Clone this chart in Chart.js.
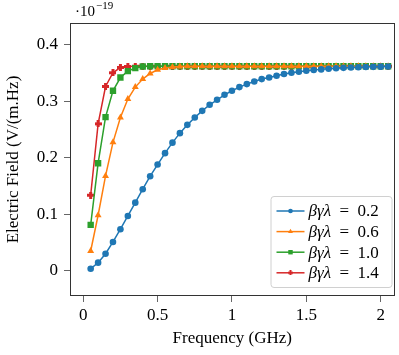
<!DOCTYPE html>
<html>
<head>
<meta charset="utf-8">
<script src="https://cdn.jsdelivr.net/npm/chart.js@4.4.0/dist/chart.umd.min.js"></script>
<style>
html, body { margin: 0; padding: 0; background: #fff; }
#wrap { position: relative; width: 399px; height: 355px; }
</style>
</head>
<body>
<div id="wrap"><canvas id="efChart" width="399" height="355"></canvas></div>
<script>
// frequency in GHz
var freq = [0.05, 0.10, 0.15, 0.20, 0.25, 0.30, 0.35, 0.40, 0.45, 0.50,
            0.55, 0.60, 0.65, 0.70, 0.75, 0.80, 0.85, 0.90, 0.95, 1.00,
            1.05, 1.10, 1.15, 1.20, 1.25, 1.30, 1.35, 1.40, 1.45, 1.50,
            1.55, 1.60, 1.65, 1.70, 1.75, 1.80, 1.85, 1.90, 1.95, 2.00, 2.05];

// electric field, in units of 1e-19 V/(m.Hz)
var field02 = [0.0035, 0.0142, 0.0301, 0.0509, 0.0734, 0.0969, 0.1205, 0.1443, 0.1673, 0.1879,
               0.2081, 0.2267, 0.2435, 0.2582, 0.2712, 0.2830, 0.2937, 0.3025, 0.3114, 0.3185,
               0.3250, 0.3303, 0.3350, 0.3392, 0.3420, 0.3451, 0.3481, 0.3504, 0.3521, 0.3539,
               0.3552, 0.3564, 0.3575, 0.3584, 0.3591, 0.3597, 0.3602, 0.3606, 0.3609, 0.3612, 0.3614];
var field06 = [0.0349, 0.0982, 0.1678, 0.2272, 0.2712, 0.3038, 0.3250, 0.3392, 0.3491, 0.3557,
               0.3587, 0.3605, 0.3614, 0.3618, 0.3620, 0.3620, 0.3620, 0.3620, 0.3620, 0.3620,
               0.3620, 0.3620, 0.3620, 0.3620, 0.3620, 0.3620, 0.3620, 0.3620, 0.3620, 0.3620,
               0.3620, 0.3620, 0.3620, 0.3620, 0.3620, 0.3620, 0.3620, 0.3620, 0.3620, 0.3620, 0.3620];
var field10 = [0.0810, 0.1903, 0.2719, 0.3185, 0.3420, 0.3534, 0.3587, 0.3615, 0.3619, 0.3620,
               0.3620, 0.3620, 0.3620, 0.3620, 0.3620, 0.3620, 0.3620, 0.3620, 0.3620, 0.3620,
               0.3620, 0.3620, 0.3620, 0.3620, 0.3620, 0.3620, 0.3620, 0.3620, 0.3620, 0.3620,
               0.3620, 0.3620, 0.3620, 0.3620, 0.3620, 0.3620, 0.3620, 0.3620, 0.3620, 0.3620, 0.3620];
var field14 = [0.1336, 0.2600, 0.3261, 0.3504, 0.3598, 0.3616, 0.3620, 0.3620, 0.3620, 0.3620,
               0.3620, 0.3620, 0.3620, 0.3620, 0.3620, 0.3620, 0.3620, 0.3620, 0.3620, 0.3620,
               0.3620, 0.3620, 0.3620, 0.3620, 0.3620, 0.3620, 0.3620, 0.3620, 0.3620, 0.3620,
               0.3620, 0.3620, 0.3620, 0.3620, 0.3620, 0.3620, 0.3620, 0.3620, 0.3620, 0.3620, 0.3620];

var seriesValues = ['0.2', '0.6', '1.0', '1.4'];
var xTicks = [0, 0.5, 1, 1.5, 2];
var yTicks = [0, 0.1, 0.2, 0.3, 0.4];

var serif = "'Liberation Serif', 'DejaVu Serif', serif";
var fontSize = 17;

// filled plus marker (matplotlib 'P')
function makePlus(color, size) {
    var c = document.createElement('canvas');
    c.width = size; c.height = size;
    var g = c.getContext('2d');
    var t = Math.round(size * 0.38);
    var o = (size - t) / 2;
    g.fillStyle = color;
    g.fillRect(o, 0, t, size);
    g.fillRect(0, o, size, t);
    return c;
}

function toPoints(ys) {
    var pts = [];
    for (var i = 0; i < freq.length; i++) {
        pts.push({ x: freq[i], y: ys[i] });
    }
    return pts;
}

var colors = ['#1f77b4', '#ff7f0e', '#2ca02c', '#d62728'];
var plusBig = makePlus(colors[3], 7);
var plusSmall = makePlus(colors[3], 5);

var datasets = [
    { data: toPoints(field02), borderColor: colors[0], backgroundColor: colors[0], pointStyle: 'circle', pointRadius: 3.3 },
    { data: toPoints(field06), borderColor: colors[1], backgroundColor: colors[1], pointStyle: 'triangle', pointRadius: 4 },
    { data: toPoints(field10), borderColor: colors[2], backgroundColor: colors[2], pointStyle: 'rect', pointRadius: 4.5 },
    { data: toPoints(field14), borderColor: colors[3], backgroundColor: colors[3], pointStyle: plusBig, pointRadius: 3.5 }
];
datasets.forEach(function (d, i) {
    d.label = seriesValues[i];
    d.borderWidth = 1.5;
    d.pointBorderWidth = 0;
    d.tension = 0;
});

var framePlugin = {
    id: 'frame',
    afterDatasetsDraw: function (chart) {
        var a = chart.chartArea, ctx = chart.ctx;
        ctx.save();
        ctx.strokeStyle = '#333';
        ctx.lineWidth = 1;
        ctx.strokeRect(Math.round(a.left) + 0.5, Math.round(a.top) + 0.5,
                       Math.round(a.right - a.left) - 1, Math.round(a.bottom - a.top) - 1);

        // offset text above the y axis
        ctx.fillStyle = '#000';
        ctx.textBaseline = 'alphabetic';
        ctx.font = '15px ' + serif;
        ctx.fillText('\u00b710', 75, 16);
        var w = ctx.measureText('\u00b710').width;
        ctx.font = '11px ' + serif;
        ctx.fillText('\u221219', 75 + w + 1, 9);
        ctx.restore();
    },
    afterDraw: function (chart) {
        var a = chart.chartArea, ctx = chart.ctx;
        var bw = 121, bh = 91;
        var bx = a.right - 3 - bw, by = a.bottom - 9 - bh;
        ctx.save();
        ctx.fillStyle = 'rgba(255,255,255,0.85)';
        ctx.strokeStyle = '#d0d0d0';
        ctx.lineWidth = 1;
        ctx.beginPath();
        ctx.roundRect(bx + 0.5, by + 0.5, bw, bh, 3);
        ctx.fill();
        ctx.stroke();
        chart.data.datasets.forEach(function (d, i) {
            var y = by + 15 + i * 20.6;
            ctx.strokeStyle = d.borderColor;
            ctx.fillStyle = d.backgroundColor;
            ctx.lineWidth = 1.5;
            ctx.beginPath();
            ctx.moveTo(bx + 6, y);
            ctx.lineTo(bx + 34, y);
            ctx.stroke();
            var style = d.pointStyle === plusBig ? plusSmall : d.pointStyle;
            Chart.helpers.drawPoint(ctx, { pointStyle: style, radius: d.pointRadius * 0.7, rotation: 0, borderWidth: 0 }, bx + 20, y);
            ctx.fillStyle = '#000';
            ctx.textBaseline = 'middle';
            ctx.font = 'italic ' + fontSize + 'px ' + serif;
            ctx.fillText('\u03b2\u03b3\u03bb', bx + 38, y + 1);
            var w = ctx.measureText('\u03b2\u03b3\u03bb').width;
            ctx.font = fontSize + 'px ' + serif;
            ctx.fillText('\u2002=\u2002' + d.label, bx + 38 + w, y + 1);
        });
        ctx.restore();
    }
};

var ctx = document.getElementById('efChart').getContext('2d');
var efChart = new Chart(ctx, {
    type: 'line',
    data: { datasets: datasets },
    options: {
        responsive: false,
        devicePixelRatio: 1,
        animation: false,
        layout: { padding: { top: 23, right: 2, left: 0, bottom: 0 } },
        plugins: {
            legend: { display: false },
            tooltip: { enabled: false }
        },
        scales: {
            x: {
                type: 'linear',
                min: -0.089,
                max: 2.093,
                afterBuildTicks: function (axis) {
                    axis.ticks = xTicks.map(function (v) { return { value: v }; });
                },
                afterFit: function (axis) { axis.height = 59; },
                grid: { drawOnChartArea: false, drawTicks: true, tickLength: 6, tickColor: '#666' },
                border: { display: false },
                ticks: {
                    color: '#000',
                    padding: 3,
                    maxRotation: 0,
                    font: { family: serif, size: fontSize },
                    callback: function (v) { return String(v); }
                },
                title: {
                    display: true,
                    text: 'Frequency (GHz)',
                    color: '#000',
                    font: { family: serif, size: fontSize },
                    padding: { top: 0, bottom: 6 }
                }
            },
            y: {
                type: 'linear',
                min: -0.0448,
                max: 0.4385,
                afterBuildTicks: function (axis) {
                    axis.ticks = yTicks.map(function (v) { return { value: v }; });
                },
                afterFit: function (axis) { axis.width = 70; },
                grid: { drawOnChartArea: false, drawTicks: true, tickLength: 6, tickColor: '#666' },
                border: { display: false },
                ticks: {
                    color: '#000',
                    padding: 6,
                    font: { family: serif, size: fontSize },
                    callback: function (v) { return String(v); }
                },
                title: {
                    display: true,
                    text: 'Electric Field (V/(m.Hz)',
                    color: '#000',
                    font: { family: serif, size: fontSize },
                    padding: { top: 3, bottom: 0 }
                }
            }
        }
    },
    plugins: [framePlugin]
});
</script>
</body>
</html>
